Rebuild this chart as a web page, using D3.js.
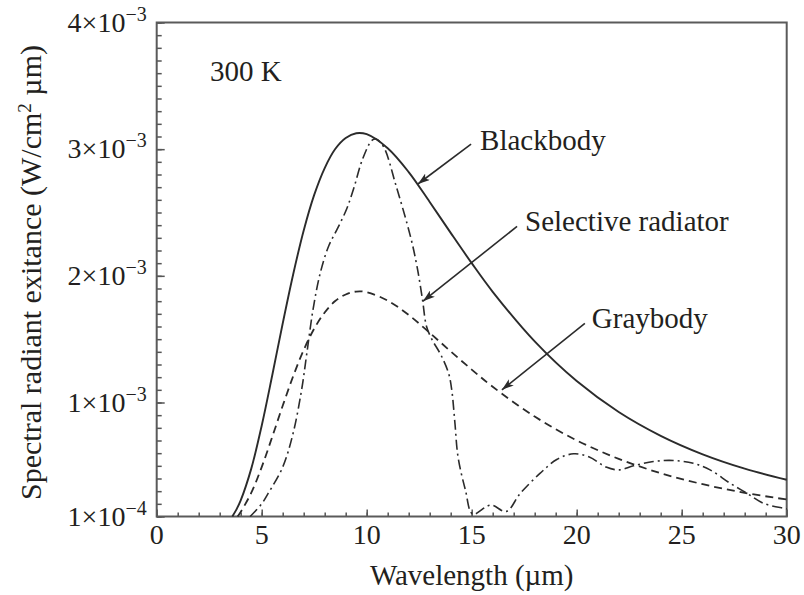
<!DOCTYPE html>
<html>
<head>
<meta charset="utf-8">
<script src="https://cdn.jsdelivr.net/npm/d3@7"></script>
<style>
  body { margin: 0; background: #fff; }
  text { font-family: "Liberation Serif", "Times New Roman", serif; fill: #231f20; }
</style>
</head>
<body>
<svg></svg>
<script>
// values in units of 10^-3 W/(cm^2 um)
var bbWave = [3.6, 3.8, 4, 4.5, 5, 5.5, 6, 6.5, 7, 7.5, 8, 8.5, 9, 9.5, 10, 11, 12, 13, 14, 15, 16, 18, 20, 22, 24, 26, 28, 30];
var blackbody = [0.10, 0.156, 0.227, 0.476, 0.817, 1.213, 1.624, 2.013, 2.358, 2.639, 2.851, 3.001, 3.088, 3.126, 3.118, 3.007, 2.819, 2.583, 2.339, 2.100, 1.874, 1.482, 1.169, 0.925, 0.737, 0.591, 0.478, 0.390];

var grayWave = [3.85, 4, 4.5, 5, 5.5, 6, 6.5, 7, 7.5, 8, 8.5, 9, 9.5, 10, 11, 12, 13, 14, 15, 16, 18, 20, 22, 24, 26, 28, 30];
var graybody = [0.10, 0.136, 0.286, 0.490, 0.728, 0.974, 1.208, 1.415, 1.583, 1.711, 1.801, 1.853, 1.876, 1.871, 1.804, 1.691, 1.550, 1.403, 1.260, 1.124, 0.889, 0.701, 0.555, 0.442, 0.355, 0.287, 0.234];

var selWave = [4.45, 5.0, 5.3, 6.0, 6.5, 6.9, 7.15, 7.45, 7.8, 8.2, 8.6, 9.05, 9.4, 9.8, 10.25, 10.45, 10.8, 11.4, 12.1, 12.4, 12.65, 12.85, 13.1, 13.55, 13.9, 14.05, 14.2, 14.35, 14.7, 15.05, 15.9, 16.65, 17.3, 18.25, 19.05, 19.85, 20.6, 21.4, 22.0, 22.7, 23.65, 24.6, 25.55, 26.35, 27.3, 28.1, 28.9, 29.85, 30];
var selective = [0.10, 0.20, 0.28, 0.49, 0.76, 1.10, 1.39, 1.74, 2.03, 2.24, 2.37, 2.53, 2.70, 2.92, 3.07, 3.08, 3.02, 2.71, 2.30, 2.07, 1.82, 1.60, 1.50, 1.37, 1.23, 1.10, 0.84, 0.57, 0.31, 0.12, 0.19, 0.14, 0.28, 0.44, 0.55, 0.595, 0.57, 0.49, 0.468, 0.50, 0.534, 0.542, 0.52, 0.468, 0.363, 0.284, 0.204, 0.165, 0.16];

var xMajor = [0, 5, 10, 15, 20, 25, 30];
var yMajor = [0.1, 1, 2, 3, 4];
var yLabels = [["1×10", "−4"], ["1×10", "−3"], ["2×10", "−3"], ["3×10", "−3"], ["4×10", "−3"]];

var labels = [
  {text: "Blackbody", x: 15.4, y: 2.99, ax: 14.97, ay: 3.04, tx: 12.44, ty: 2.725},
  {text: "Selective radiator", x: 17.54, y: 2.355, ax: 17.16, ay: 2.39, tx: 12.68, ty: 1.80},
  {text: "Graybody", x: 20.72, y: 1.59, ax: 20.39, ay: 1.624, tx: 16.44, ty: 1.10}
];

var W = 804, H = 595;
var margin = {top: 22.5, right: 17.3, bottom: 78.5, left: 156.7};
var width = W - margin.left - margin.right,
    height = H - margin.top - margin.bottom;

var svg = d3.select("svg").attr("width", W).attr("height", H);

var defs = svg.append("defs");
defs.append("marker")
    .attr("id", "arrow")
    .attr("viewBox", "0 0 12 8")
    .attr("refX", 12).attr("refY", 4)
    .attr("markerWidth", 12).attr("markerHeight", 8)
    .attr("markerUnits", "userSpaceOnUse")
    .attr("orient", "auto")
  .append("path")
    .attr("d", "M0,0 L12,4 L0,8 L3,4 Z")
    .attr("fill", "#2b2b2b");

var g = svg.append("g").attr("transform", "translate(" + margin.left + "," + margin.top + ")");

var x = d3.scaleLinear().domain([0, 30]).range([0, width]);
var y = d3.scaleLinear().domain([0.1, 4]).range([height, 0]);

// minor ticks
g.append("g")
    .attr("transform", "translate(0," + height + ")")
    .call(d3.axisBottom(x).tickValues(d3.range(0, 31, 1)).tickSize(-4).tickSizeOuter(0).tickFormat(""));
g.append("g")
    .attr("transform", "translate(0," + height + ")")
    .call(d3.axisBottom(x).tickValues(xMajor).tickSize(-7).tickSizeOuter(0).tickFormat(""));
g.append("g")
    .call(d3.axisLeft(y).tickValues(d3.range(1, 41).map(function(d) { return d / 10; })).tickSize(-5).tickSizeOuter(0).tickFormat(""));
g.append("g")
    .call(d3.axisLeft(y).tickValues(yMajor).tickSize(-8).tickSizeOuter(0).tickFormat(""));

g.selectAll(".domain").remove();
g.selectAll(".tick line").attr("stroke", "#555").attr("stroke-width", 1.5);
g.selectAll(".tick text").remove();

// frame
g.append("rect")
    .attr("width", width).attr("height", height)
    .attr("fill", "none").attr("stroke", "#5a5a5a").attr("stroke-width", 2);

// x tick labels
g.selectAll(".xlab")
    .data(xMajor)
  .enter().append("text")
    .attr("class", "xlab")
    .attr("x", function(d) { return x(d); })
    .attr("y", height + 27)
    .attr("text-anchor", "middle")
    .attr("font-size", 28)
    .text(function(d) { return d; });

// y tick labels
var yl = g.selectAll(".ylab")
    .data(yMajor)
  .enter().append("text")
    .attr("class", "ylab")
    .attr("x", -10)
    .attr("y", function(d) { return y(d) + 9; })
    .attr("text-anchor", "end")
    .attr("font-size", 28);
yl.append("tspan").text(function(d, i) { return yLabels[i][0]; });
yl.append("tspan").attr("dy", -11).attr("font-size", 20).text(function(d, i) { return yLabels[i][1]; });

// axis titles
g.append("text")
    .attr("x", width / 2)
    .attr("y", height + 68)
    .attr("text-anchor", "middle")
    .attr("font-size", 29)
    .text("Wavelength (µm)");

var yt = g.append("text")
    .attr("transform", "translate(" + (-116) + "," + (height / 2 + 3) + ") rotate(-90)")
    .attr("text-anchor", "middle")
    .attr("font-size", 30);
yt.append("tspan").text("Spectral radiant exitance (W/cm");
yt.append("tspan").attr("dy", -10).attr("font-size", 19).text("2");
yt.append("tspan").attr("dy", 10).text(" µm)");

// curves
var line = d3.line()
    .x(function(d) { return x(d[0]); })
    .y(function(d) { return y(d[1]); })
    .curve(d3.curveCatmullRom.alpha(0.5));

function pairs(xs, ys) { return xs.map(function(v, i) { return [v, ys[i]]; }); }

g.append("path")
    .datum(pairs(bbWave, blackbody))
    .attr("d", line)
    .attr("fill", "none").attr("stroke", "#2b2b2b").attr("stroke-width", 1.9);

g.append("path")
    .datum(pairs(grayWave, graybody))
    .attr("d", line)
    .attr("fill", "none").attr("stroke", "#2b2b2b").attr("stroke-width", 1.8)
    .attr("stroke-dasharray", "8,5");

g.append("path")
    .datum(pairs(selWave, selective))
    .attr("d", line)
    .attr("fill", "none").attr("stroke", "#2b2b2b").attr("stroke-width", 1.6)
    .attr("stroke-dasharray", "10,4,2,4");

// annotations
g.append("text")
    .attr("x", x(2.54))
    .attr("y", y(3.54))
    .attr("font-size", 29)
    .text("300 K");

labels.forEach(function(l) {
  g.append("line")
      .attr("x1", x(l.ax)).attr("y1", y(l.ay))
      .attr("x2", x(l.tx)).attr("y2", y(l.ty))
      .attr("stroke", "#2b2b2b").attr("stroke-width", 1.6)
      .attr("marker-end", "url(#arrow)");
  g.append("text")
      .attr("x", x(l.x))
      .attr("y", y(l.y))
      .attr("font-size", 29)
      .text(l.text);
});
</script>
</body>
</html>
